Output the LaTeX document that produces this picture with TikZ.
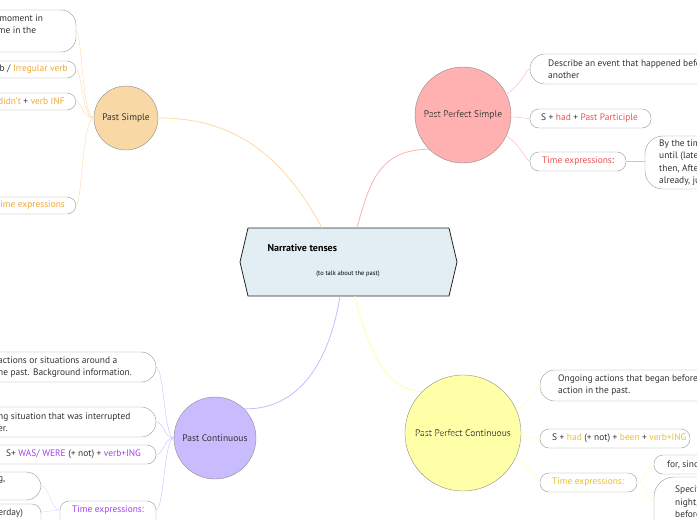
\documentclass[tikz,border=0pt]{standalone}
\usepackage{fontspec}
\setmainfont{PT Sans}
\definecolor{psC}{HTML}{F0A838}
\definecolor{psL}{HTML}{FFD9A8}
\definecolor{ppsC}{HTML}{F05050}
\definecolor{ppsL}{HTML}{FFB0B0}
\definecolor{pcC}{HTML}{A040F0}
\definecolor{pcL}{HTML}{C8BCFF}
\definecolor{ppcC}{HTML}{E8C030}
\definecolor{ppcL}{HTML}{FFFFA8}
\definecolor{txt}{HTML}{333333}
\definecolor{hubF}{HTML}{E2EEF4}
\tikzset{
  leaf/.style={draw=gray!80, rounded corners=9pt, fill=white},
  bigleaf/.style={draw=gray!80, rounded corners=15pt, fill=white},
  lbl/.style={anchor=west, inner sep=0pt, text=txt, font=\fontsize{9.4}{12}\selectfont, align=left},
  tense/.style={circle, draw=gray!90, text=txt, font=\fontsize{9.5}{11}\selectfont}
}
\begin{document}
\begin{tikzpicture}[x=1pt,y=-1pt]
\useasboundingbox[fill=white] (0,0) rectangle (697,520);
% centre
\draw[fill=hubF, draw=gray!30!black, thick] (240,262)--(248,228)--(449,228)--(457,262)--(449,296)--(248,296)--cycle;
\node[anchor=west, font=\bfseries\fontsize{10}{12}\selectfont] (title) at (264,248) {Narrative tenses};
\node[font=\fontsize{6.5}{8}\selectfont] (sub) at (348,274) {(to talk about the past)};
\coordinate (cN1) at (322,228);
\coordinate (cN2) at (357,228);
\coordinate (cS1) at (340,296);
\coordinate (cS2) at (355,296);
% tenses
\node[tense, fill=psC!45, minimum size=64pt] (ps) at (126,118) {Past Simple};
\node[tense, fill=ppsL, minimum size=96pt] (pps) at (463,115) {Past Perfect Simple};
\node[tense, fill=pcL, minimum size=82pt] (pc) at (215,438) {Past Continuous};
\node[tense, fill=ppcL, minimum size=116pt] (ppc) at (463,433) {Past Perfect Continuous};
\draw[psL, thick] (cN1) .. controls (280,150) and (230,118) .. (ps.east);
\draw[ppsL, thick] (cN2) .. controls (370,180) and (380,150) .. (pps.south west);
\draw[pcL, thick] (cS1) .. controls (330,360) and (300,410) .. (pc.north east);
\draw[ppcL, thick] (cS2) .. controls (370,360) and (390,390) .. (ppc.north west);
% past simple
\draw[leaf, rounded corners=15pt] (-40,10) rectangle (76,52);
\draw[leaf] (-40,61) rectangle (76,78);
\draw[leaf] (-40,93) rectangle (76,110);
\draw[leaf] (-40,197) rectangle (76,214);
\node[lbl] (ps1) at (-8,24) {a moment in\\ time in the};
\node[lbl] (ps2) at (-46,69.5) {Regular verb / \textcolor{psC}{Irregular verb}};
\node[lbl] (ps3) at (-2,101.5) {\textcolor{psC}{didn't} + \textcolor{psC}{verb INF}};
\node[lbl, text=psC] (ps4) at (-5,205.5) {Time expressions};
\foreach \y in {31,69.5,101.5,205.5}
  \draw[psL] (ps.west) .. controls (82,118) and (82,\y) .. (76,\y);
% past perfect simple
\draw[bigleaf] (530,54) rectangle (720,84);
\draw[leaf] (530,109) rectangle (651,128);
\draw[leaf] (530,152) rectangle (626,171);
\draw[bigleaf, rounded corners=18pt] (645,136) rectangle (740,189);
\node[lbl] (pps1) at (548,69) {Describe an event that happened before\\another};
\node[lbl] (pps2) at (541,118.5) {S + \textcolor{ppsC}{had} + \textcolor{ppsC}{Past Participle}};
\node[lbl] (pps3) at (542,161.5) {\textcolor{ppsC}{Time expressions}:};
\node[lbl, font=\fontsize{9.4}{12.5}\selectfont] (pps4) at (659,162.5) {By the time\\until (later)\\then, After\\already, just};
\foreach \y in {69,118.5,161.5}
  \draw[ppsL] (pps.west) .. controls (522,115) and (522,\y) .. (530,\y);
\draw[ppsL] (626,161.5) -- (645,161.5);
% past continuous
\draw[bigleaf] (-40,352) rectangle (156,382);
\draw[bigleaf] (-40,407) rectangle (156,437);
\draw[leaf] (-40,445) rectangle (156,464);
\draw[leaf] (60,501) rectangle (156,530);
\draw[bigleaf] (-40,472) rectangle (41,500);
\draw[leaf] (-40,504) rectangle (41,530);
\node[lbl] (pc1) at (-2,367) {actions or situations around a\\ne past. Background information.};
\node[lbl] (pc2) at (-2,422) {ng situation that was interrupted\\er.};
\node[lbl] (pc3) at (6,454.5) {S+ \textcolor{pcC}{WAS/ WERE} (+ not) + \textcolor{pcC}{verb+ING}};
\node[lbl, text=pcC] (pc4) at (72,510) {Time expressions:};
\node[lbl] (pc5) at (-2,480) {g,};
\node[lbl] (pc6) at (-5,513) {terday)};
\foreach \y in {367,422,454.5,510}
  \draw[pcL] (pc.west) .. controls (164,438) and (164,\y) .. (156,\y);
\draw[pcL!60] (60,510) .. controls (50,510) and (50,486) .. (41,486);
\draw[pcL!60] (60,510) -- (41,512);
% past perfect continuous
\draw[bigleaf] (540,370) rectangle (720,401);
\draw[leaf] (540,429) rectangle (690,448);
\draw[leaf] (540,473) rectangle (637,492);
\draw[leaf] (654,455) rectangle (720,474);
\draw[bigleaf, rounded corners=20pt] (654,477) rectangle (740,540);
\node[lbl] (ppc1) at (558,385.5) {Ongoing actions that began before\\action in the past.};
\node[lbl] (ppc2) at (552,438.5) {S + \textcolor{ppcC}{had} (+ not) + \textcolor{ppcC}{been} + \textcolor{ppcC}{verb+ING}};
\node[lbl, text=ppcC] (ppc3) at (552,482.5) {Time expressions:};
\node[lbl] (ppc4) at (667,464.5) {for, since};
\node[lbl, font=\fontsize{9.4}{12.5}\selectfont] (ppc5) at (675,502) {Specific\\night,\\before};
\foreach \y in {385.5,438.5,482.5}
  \draw[ppcL] (ppc.west) .. controls (532,433) and (532,\y) .. (540,\y);
\draw[ppcL] (637,482.5) .. controls (646,482.5) and (646,464.5) .. (654,464.5);
\draw[ppcL] (637,482.5) .. controls (646,482.5) and (646,500) .. (654,500);
\end{tikzpicture}
\end{document}
